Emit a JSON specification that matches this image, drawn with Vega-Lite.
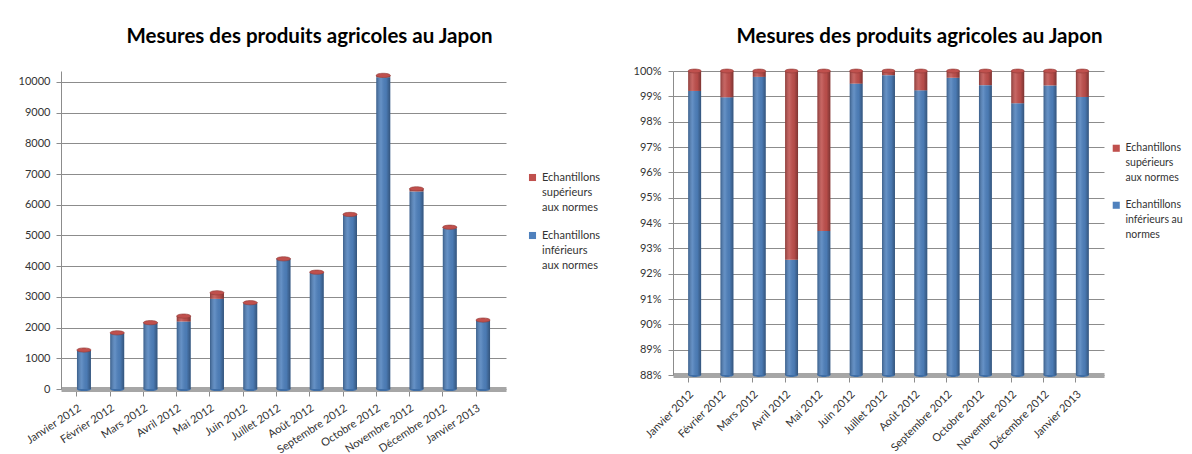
{
  "$schema": "https://vega.github.io/schema/vega-lite/v6.json",
  "background": "white",
  "padding": {"left": 18, "top": 26, "right": 0, "bottom": 0},
  "config": {
    "font": "Lato",
    "view": {"stroke": null},
    "title": {"font": "Lato", "fontSize": 20.5, "fontWeight": "bold", "color": "#000000", "anchor": "middle"},
    "axis": {"labelFont": "Lato", "labelFontSize": 11, "labelColor": "#333333", "gridColor": "#8c8c8c", "domainColor": "#8c8c8c", "tickColor": "#8c8c8c"},
    "legend": {"labelFont": "Lato", "labelFontSize": 11, "labelColor": "#333333", "symbolType": "square", "symbolSize": 50, "rowPadding": 16}
  },
  "datasets": {
    "mesures": [
      {"mois": "Janvier 2012", "categorie": "Echantillons inférieurs aux normes", "valeur": 1260},
      {"mois": "Janvier 2012", "categorie": "Echantillons supérieurs aux normes", "valeur": 10},
      {"mois": "Février 2012", "categorie": "Echantillons inférieurs aux normes", "valeur": 1811},
      {"mois": "Février 2012", "categorie": "Echantillons supérieurs aux normes", "valeur": 19},
      {"mois": "Mars 2012", "categorie": "Echantillons inférieurs aux normes", "valeur": 2155},
      {"mois": "Mars 2012", "categorie": "Echantillons supérieurs aux normes", "valeur": 5},
      {"mois": "Avril 2012", "categorie": "Echantillons inférieurs aux normes", "valeur": 2198},
      {"mois": "Avril 2012", "categorie": "Echantillons supérieurs aux normes", "valeur": 177},
      {"mois": "Mai 2012", "categorie": "Echantillons inférieurs aux normes", "valeur": 2937},
      {"mois": "Mai 2012", "categorie": "Echantillons supérieurs aux normes", "valeur": 198},
      {"mois": "Juin 2012", "categorie": "Echantillons inférieurs aux normes", "valeur": 2796},
      {"mois": "Juin 2012", "categorie": "Echantillons supérieurs aux normes", "valeur": 14},
      {"mois": "Juillet 2012", "categorie": "Echantillons inférieurs aux normes", "valeur": 4233},
      {"mois": "Juillet 2012", "categorie": "Echantillons supérieurs aux normes", "valeur": 7},
      {"mois": "Août 2012", "categorie": "Echantillons inférieurs aux normes", "valeur": 3776},
      {"mois": "Août 2012", "categorie": "Echantillons supérieurs aux normes", "valeur": 29},
      {"mois": "Septembre 2012", "categorie": "Echantillons inférieurs aux normes", "valeur": 5670},
      {"mois": "Septembre 2012", "categorie": "Echantillons supérieurs aux normes", "valeur": 15},
      {"mois": "Octobre 2012", "categorie": "Echantillons inférieurs aux normes", "valeur": 10158},
      {"mois": "Octobre 2012", "categorie": "Echantillons supérieurs aux normes", "valeur": 57},
      {"mois": "Novembre 2012", "categorie": "Echantillons inférieurs aux normes", "valeur": 6437},
      {"mois": "Novembre 2012", "categorie": "Echantillons supérieurs aux normes", "valeur": 83},
      {"mois": "Décembre 2012", "categorie": "Echantillons inférieurs aux normes", "valeur": 5240},
      {"mois": "Décembre 2012", "categorie": "Echantillons supérieurs aux normes", "valeur": 30},
      {"mois": "Janvier 2013", "categorie": "Echantillons inférieurs aux normes", "valeur": 2222},
      {"mois": "Janvier 2013", "categorie": "Echantillons supérieurs aux normes", "valeur": 23}
    ]
  },
  "data": {"name": "mesures"},
  "spacing": 32,
  "resolve": {"legend": {"color": "independent"}, "scale": {"color": "independent"}},
  "hconcat": [
    {
      "title": {"text": "Mesures des produits agricoles au Japon", "offset": 24, "dx": 26},
      "width": 445,
      "height": 318,
      "encoding": {
        "x": {"field": "mois", "type": "nominal", "sort": null, "title": null,
              "scale": {"paddingInner": 0.58, "paddingOuter": 0.48},
              "axis": {"labelAngle": -33, "labelAlign": "right", "labelBaseline": "top", "labelOffset": -7, "bandPosition": 0, "ticks": true, "tickSize": 7, "domain": true, "domainWidth": 5, "domainColor": "#a6a6a6", "labelPadding": 6}},
        "y": {"aggregate": "sum", "field": "valeur", "type": "quantitative", "title": null,
              "scale": {"domain": [0, 10358], "nice": false},
              "axis": {"values": [0, 1000, 2000, 3000, 4000, 5000, 6000, 7000, 8000, 9000, 10000], "format": "d", "grid": true, "domain": true, "tickSize": 5, "labelPadding": 6}}
      },
      "layer": [
        {
          "mark": {"type": "point", "shape": "M-1,0A1,0.3 0 1,1 1,0A1,0.3 0 1,1 -1,0Z", "size": 200, "filled": true, "fill": "#3F6EA6", "opacity": 1},
          "encoding": {"y": {"datum": 0, "type": "quantitative"}}
        },
        {
          "mark": {"type": "bar"},
          "encoding": {
            "order": {"field": "categorie", "sort": "ascending"},
            "color": {"field": "categorie", "type": "nominal", "title": null,
                      "scale": {"domain": ["Echantillons supérieurs aux normes", "Echantillons inférieurs aux normes"], "range": ["#C0504D", "#4F81BD"]},
                      "legend": {"orient": "none", "legendX": 466, "legendY": 101,
                                 "labelExpr": "datum.label == 'Echantillons supérieurs aux normes' ? ['Echantillons', 'supérieurs', 'aux normes'] : ['Echantillons', 'inférieurs', 'aux normes']",
                                 "encode": {"labels": {"update": {"lineHeight": {"value": 15}}}}}}
          }
        },
        {
          "mark": {"type": "bar", "color": {"gradient": "linear", "x1": 0, "x2": 1, "y1": 0, "y2": 0,
            "stops": [
              {"offset": 0, "color": "rgba(0,0,0,0.28)"},
              {"offset": 0.35, "color": "rgba(255,255,255,0.12)"},
              {"offset": 0.7, "color": "rgba(0,0,0,0.05)"},
              {"offset": 1, "color": "rgba(0,0,0,0.35)"}
            ]}},
          "encoding": {"order": {"field": "categorie", "sort": "ascending"}}
        },
        {
          "mark": {"type": "point", "shape": "M-1,0A1,0.3 0 1,1 1,0A1,0.3 0 1,1 -1,0Z", "size": 200, "filled": true, "fill": "#C0504D", "stroke": "#8E3A38", "strokeWidth": 0.6, "opacity": 1},
          "encoding": {
            "y": {"aggregate": "sum", "field": "valeur", "type": "quantitative"}
          }
        }
      ]
    },
    {
      "title": {"text": "Mesures des produits agricoles au Japon", "offset": 18, "dx": 31},
      "width": 431,
      "height": 304,
      "encoding": {
        "x": {"field": "mois", "type": "nominal", "sort": null, "title": null,
              "scale": {"paddingInner": 0.6, "paddingOuter": 0.47},
              "axis": {"labelAngle": -45, "labelAlign": "right", "labelBaseline": "top", "labelOffset": -7, "bandPosition": 0, "ticks": true, "tickSize": 7, "domain": true, "domainWidth": 5, "domainColor": "#a6a6a6", "labelPadding": 6}},
        "y": {"aggregate": "sum", "field": "valeur", "type": "quantitative", "title": null, "stack": "normalize",
              "scale": {"domain": [0.88, 1], "clamp": true},
              "axis": {"values": [0.88, 0.89, 0.9, 0.91, 0.92, 0.93, 0.94, 0.95, 0.96, 0.97, 0.98, 0.99, 1], "format": ".0%", "grid": true, "domain": true, "tickSize": 5, "labelPadding": 7}}
      },
      "layer": [
        {
          "mark": {"type": "point", "shape": "M-1,0A1,0.3 0 1,1 1,0A1,0.3 0 1,1 -1,0Z", "size": 170, "filled": true, "fill": "#3F6EA6", "opacity": 1},
          "encoding": {"y": {"datum": 0.88, "type": "quantitative"}}
        },
        {
          "mark": {"type": "bar", "clip": true},
          "encoding": {
            "order": {"field": "categorie", "sort": "ascending"},
            "color": {"field": "categorie", "type": "nominal", "title": null,
                      "scale": {"domain": ["Echantillons supérieurs aux normes", "Echantillons inférieurs aux normes"], "range": ["#C0504D", "#4F81BD"]},
                      "legend": {"orient": "none", "legendX": 438, "legendY": 72, "labelFontSize": 10.5,
                                 "labelExpr": "datum.label == 'Echantillons supérieurs aux normes' ? ['Echantillons', 'supérieurs', 'aux normes'] : ['Echantillons', 'inférieurs au', 'normes']",
                                 "encode": {"labels": {"update": {"lineHeight": {"value": 15}}}}}}
          }
        },
        {
          "mark": {"type": "bar", "clip": true, "color": {"gradient": "linear", "x1": 0, "x2": 1, "y1": 0, "y2": 0,
            "stops": [
              {"offset": 0, "color": "rgba(0,0,0,0.28)"},
              {"offset": 0.35, "color": "rgba(255,255,255,0.12)"},
              {"offset": 0.7, "color": "rgba(0,0,0,0.05)"},
              {"offset": 1, "color": "rgba(0,0,0,0.35)"}
            ]}},
          "encoding": {"order": {"field": "categorie", "sort": "ascending"}}
        },
        {
          "mark": {"type": "point", "shape": "M-1,0A1,0.3 0 1,1 1,0A1,0.3 0 1,1 -1,0Z", "size": 170, "filled": true, "fill": "#C0504D", "stroke": "#8E3A38", "strokeWidth": 0.6, "opacity": 1},
          "encoding": {
            "y": {"datum": 1, "type": "quantitative"}
          }
        }
      ]
    }
  ]
}
